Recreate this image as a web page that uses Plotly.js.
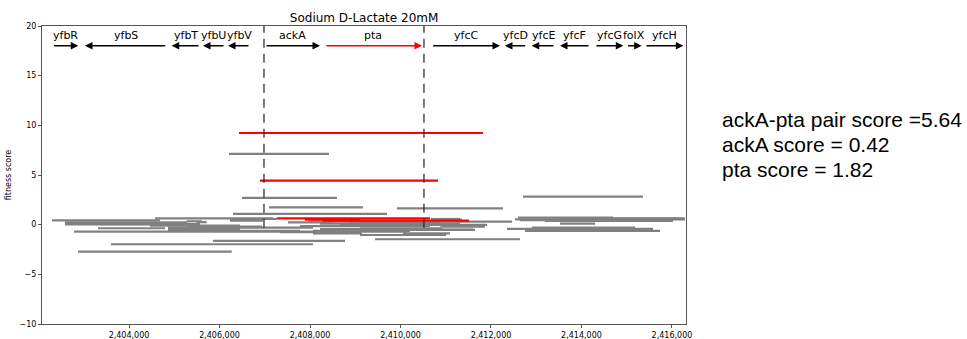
<!DOCTYPE html>
<html>
<head>
<meta charset="utf-8">
<script src="https://cdn.plot.ly/plotly-3.0.1.min.js"></script>
<style>html,body{margin:0;padding:0;background:#fff;}#chart{width:967px;height:339px;}</style>
</head>
<body>
<div id="chart"></div>
<script>
// Genes
const geneNames = ["yfbR","yfbS","yfbT","yfbU","yfbV","ackA","pta","yfcC","yfcD","yfcE","yfcF","yfcG","folX","yfcH"];
const geneStart = [2402313,2404833,2405569,2406121,2406674,2407005,2408331,2410689,2412789,2413414,2414188,2414298,2414999,2415403];
const geneEnd   = [2402879,2403027,2404943,2405635,2406188,2408221,2410475,2412199,2412309,2412899,2413525,2414924,2415330,2416250];
const geneHighlight = [false,false,false,false,false,false,true,false,false,false,false,false,false,false];

// Dashed boundary lines (ackA start, pta end)
const boundaryX = [2406983, 2410519];

// Fitness segments: gray
const grayStart = [2406210,2406497,2412707,2407094,2409923,2406298,
  2402298,2404575,2402586,2402586,2402586,2403315,2402784,2404862,2404862,2405282,2408066,2405275,2405496,
  2402873,2403602,2405856,2409437,2409105,
  2406232,2406232,2407514,2408066,2410055,2407978,2408221,2408663,2410387,2410917,2409105,2410144,2409105,2410674,
  2412597,2414696,2412531,2410873,2413194,2413525,2412906,2412354,2412752,2412752,2410873,2410873,2412641,
  2404862,2405017,2403359,2404464,2407779,2408221,2408884,2407337,2413525];
const grayEnd = [2408420,2408597,2415359,2409171,2412265,2409702,
  2404685,2407182,2404862,2405282,2405550,2404796,2408066,2408066,2406453,2406939,2409149,2405608,2405717,
  2406270,2408066,2408774,2412641,2411006,
  2407271,2406961,2408508,2410210,2411094,2412464,2411315,2410652,2411912,2411868,2410917,2411647,2410144,2411315,
  2414696,2416288,2416288,2411359,2416022,2414299,2415183,2415580,2414851,2415735,2411602,2411868,2415293,
  2406453,2407779,2405569,2406453,2410652,2410431,2410873,2409105,2416177];
const grayFit = [7.12,2.69,2.82,1.75,1.65,1.08,
  0.44,0.64,0.10,0.24,0.02,-0.36,-0.70,-0.30,-0.53,-0.20,-0.87,0.34,0.25,
  -2.72,-1.97,-1.64,-1.47,-1.04,
  0.57,0.40,0.24,-0.63,-0.87,0.30,0.10,-0.03,-0.03,-0.20,-0.36,-0.53,-0.70,0.57,
  0.70,0.64,0.54,0.50,0.37,0.10,-0.30,-0.43,-0.53,-0.63,-0.50,-0.10,0.45,
  -0.45,-0.62,0.05,-0.10,-0.15,-0.45,0.20,-0.75,0.60];

// Fitness segments: red (span both ackA and pta)
const redStart = [2406431,2406895,2407271,2407890,2408287];
const redEnd   = [2411823,2410829,2410652,2409105,2411514];
const redFit   = [9.23,4.43,0.64,0.50,0.40];

const scoreLines = ["ackA-pta pair score =5.64","ackA score = 0.42","pta score = 1.82"];

function segTrace(s, e, f, color) {
  const x = [], y = [];
  for (let i = 0; i < s.length; i++) { x.push(s[i], e[i], null); y.push(f[i], f[i], null); }
  return {type:"scatter", mode:"lines", x:x, y:y, line:{color:color, width:2.2}, hoverinfo:"skip", showlegend:false};
}

const data = [segTrace(grayStart, grayEnd, grayFit, "#808080"), segTrace(redStart, redEnd, redFit, "#ff0000")];

const annotations = [];
const ARROW_Y = 18.0, LABEL_Y = 19.0;
for (let i = 0; i < geneNames.length; i++) {
  const c = geneHighlight[i] ? "#ff0000" : "#000000";
  annotations.push({x: geneEnd[i], y: ARROW_Y, ax: geneStart[i], ay: ARROW_Y, xref:"x", yref:"y", axref:"x", ayref:"y",
    showarrow:true, arrowhead:2, arrowsize:1, arrowwidth:1.5, arrowcolor:c, text:""});
  annotations.push({x:(geneStart[i]+geneEnd[i])/2, y:LABEL_Y, xref:"x", yref:"y", text:geneNames[i], showarrow:false,
    font:{family:"DejaVu Sans", size:11, color:"#000"}, yanchor:"middle"});
}
const scoreY = [0.685, 0.604, 0.517];
for (let i = 0; i < scoreLines.length; i++) {
  annotations.push({xref:"paper", yref:"paper", x:1.053, y:scoreY[i], xanchor:"left", yanchor:"middle", showarrow:false,
    text:scoreLines[i], font:{family:"Liberation Sans, Arial", size:21, color:"#000"}});
}

const shapes = boundaryX.map(bx => ({type:"line", xref:"x", yref:"y", x0:bx, x1:bx, y0:-0.3, y1:20,
  line:{color:"#222222", width:1.2, dash:"9px,6px"}, layer:"above"}));

const layout = {
  width:967, height:339,
  margin:{l:42, r:281, t:26, b:15},
  paper_bgcolor:"#fff", plot_bgcolor:"#fff",
  title:{text:"Sodium D-Lactate 20mM", font:{family:"DejaVu Sans", size:12, color:"#000"}, x:0.3765, xanchor:"center", y:0.947, yanchor:"middle"},
  xaxis:{range:[2402077, 2416310], tickvals:[2404000,2406000,2408000,2410000,2412000,2414000,2416000], tickformat:",d",
    showgrid:false, zeroline:false, showline:true, mirror:true, linecolor:"#555", linewidth:1,
    ticks:"outside", ticklen:3, tickcolor:"#555", tickfont:{family:"DejaVu Sans", size:8, color:"#000"}, automargin:false},
  yaxis:{range:[-10, 20], tickvals:[-10,-5,0,5,10,15,20],
    showgrid:false, zeroline:false, showline:true, mirror:true, linecolor:"#555", linewidth:1,
    ticks:"outside", ticklen:3, tickcolor:"#555", tickfont:{family:"DejaVu Sans", size:8, color:"#000"},
    title:{text:"fitness score", font:{family:"DejaVu Sans", size:8, color:"#000"}, standoff:6}, automargin:false},
  annotations: annotations,
  shapes: shapes,
  showlegend:false
};
Plotly.newPlot("chart", data, layout, {displayModeBar:false, staticPlot:true});
</script>
</body>
</html>
